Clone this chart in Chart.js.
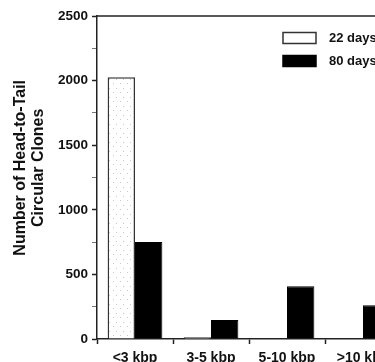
<!DOCTYPE html>
<html>
<head>
<meta charset="utf-8">
<script src="https://cdn.jsdelivr.net/npm/chart.js@4/dist/chart.umd.min.js"></script>
<style>
  html, body { margin: 0; padding: 0; width: 375px; height: 362px; overflow: hidden; background: #fff; }
  #wrap { position: absolute; left: 0; top: 0; width: 420px; height: 372px; }
</style>
</head>
<body>
<div id="wrap"><canvas id="c"></canvas></div>
<script>
// ---- data ----
const categories = ['<3 kbp', '3-5 kbp', '5-10 kbp', '>10 kbp'];
const seriesNames = ['22 days', '80 days'];
const days22 = [2025, 13, 4, 0];
const days80 = [750, 148, 408, 262];
const yTickValues = [0, 500, 1000, 1500, 2000, 2500];
const yTitleLines = ['Number of Head-to-Tail', 'Circular Clones'];

const FONT = "'Liberation Sans', Arial, Helvetica, sans-serif";

// stippled white fill for the "22 days" bars
function stipple() {
  const p = document.createElement('canvas');
  p.width = 7; p.height = 9;
  const g = p.getContext('2d');
  g.fillStyle = '#ffffff'; g.fillRect(0, 0, 7, 9);
  g.fillStyle = '#c8c8c8';
  g.fillRect(1, 2, 1, 1);
  g.fillRect(4, 7, 1, 1);
  return g.createPattern(p, 'repeat');
}
const pat = stipple();

const extras = {
  id: 'extras',
  afterDraw(chart) {
    const { ctx, chartArea: a } = chart;
    ctx.save();
    // top frame line
    ctx.strokeStyle = '#222'; ctx.lineWidth = 1.5;
    ctx.beginPath(); ctx.moveTo(a.left, a.top); ctx.lineTo(a.right, a.top); ctx.stroke();
    // y axis title (two lines, rotated)
    ctx.fillStyle = '#111';
    ctx.font = 'bold 16px ' + FONT;
    ctx.textAlign = 'center'; ctx.textBaseline = 'middle';
    const cy = a.top + (a.bottom - a.top) * 0.47;
    ctx.translate(0, cy); ctx.rotate(-Math.PI / 2);
    ctx.fillText(yTitleLines[0], 0, 21);
    ctx.fillText(yTitleLines[1], 0, 38.5);
    ctx.setTransform(1, 0, 0, 1, 0, 0);
    // legend
    const ds = chart.data.datasets;
    ctx.font = 'bold 13px ' + FONT;
    ctx.textAlign = 'left'; ctx.textBaseline = 'middle';
    const bx = a.left + 186, by = a.top + 16.5;
    ds.forEach((d, i) => {
      const y = by + i * 23;
      ctx.fillStyle = i === 0 ? '#fff' : '#000';
      ctx.fillRect(bx, y, 33, 11);
      ctx.strokeStyle = i === 0 ? '#333' : '#000'; ctx.lineWidth = 1.5;
      ctx.strokeRect(bx, y, 33, 11);
      ctx.fillStyle = '#111';
      ctx.fillText(d.label, bx + 46, y + 6);
    });
    ctx.restore();
  }
};

new Chart(document.getElementById('c'), {
  type: 'bar',
  data: {
    labels: categories,
    datasets: [
      { label: seriesNames[0], data: days22, backgroundColor: pat, borderColor: '#333', borderWidth: 1.5,
        barPercentage: 1, categoryPercentage: 0.72 },
      { label: seriesNames[1], data: days80, backgroundColor: '#000', borderColor: '#000', borderWidth: 1,
        barPercentage: 1, categoryPercentage: 0.72 }
    ]
  },
  options: {
    responsive: true, maintainAspectRatio: false, animation: false,
    layout: { padding: { left: 0, top: 16, right: 19, bottom: 0 } },
    plugins: { legend: { display: false }, tooltip: { enabled: false } },
    scales: {
      x: {
        afterFit(s) { s.height = 33; },
        grid: { display: true, drawOnChartArea: false, offset: true, tickLength: 5, tickColor: '#222', tickWidth: 1.5 },
        border: { display: true, color: '#222', width: 1.5 },
        ticks: { color: '#111', font: { family: FONT, size: 14, weight: 'bold' }, padding: 6, maxRotation: 0 }
      },
      y: {
        min: 0, max: 2500,
        afterFit(s) { s.width = 97; },
        afterBuildTicks(s) {
          const t = [];
          for (let v = 0; v <= 2500; v += 250) t.push({ value: v });
          s.ticks = t;
        },
        grid: { display: true, drawOnChartArea: false, tickLength: 5,
          tickColor: c => (c.tick && c.tick.value % 500 === 0) ? '#222' : '#777',
          tickWidth: c => (c.tick && c.tick.value % 500 === 0) ? 1.5 : 1 },
        border: { display: true, color: '#222', width: 1.5 },
        ticks: { color: '#111', font: { family: FONT, size: 13.5, weight: 'bold' }, padding: 4,
          callback: v => yTickValues.includes(v) ? String(v) : '' }
      }
    }
  },
  plugins: [extras]
});
</script>
</body>
</html>
